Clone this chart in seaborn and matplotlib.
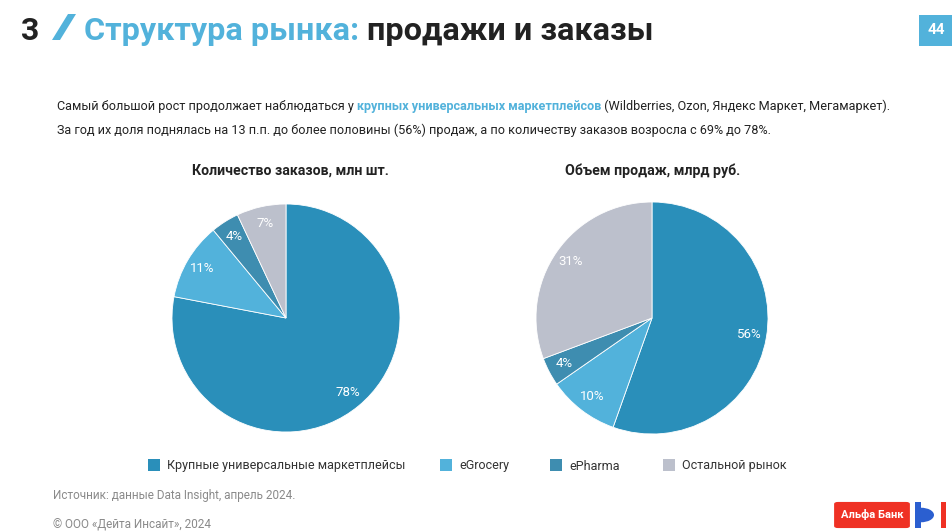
import matplotlib
matplotlib.use("Agg")
import matplotlib.pyplot as plt
import seaborn as sns
from matplotlib.patches import Rectangle, Polygon, FancyBboxPatch, Wedge

# Data
categories = ["Крупные универсальные маркетплейсы", "eGrocery", "ePharma", "Остальной рынок"]
orders_share = [78, 11, 4, 7]
sales_share = [56, 10, 4, 31]
chart_titles = ["Количество заказов, млн шт.", "Объем продаж, млрд руб."]
colors = ["#2A8FBA", "#52B2DB", "#3E8DB0", "#BCC0CC"]

sns.set_theme(style="white")
plt.rcParams['font.family'] = ['Roboto', 'DejaVu Sans']

W, H = 952, 532
fig = plt.figure(figsize=(W / 100, H / 100), dpi=100)
fig.patch.set_facecolor("white")
renderer = fig.canvas.get_renderer()

BLUE = "#52B2DB"
DARK = "#222222"


def fx(px):
    return px / W


def fy(py):
    return 1 - py / H


def put_runs(x, y, runs, size, va="baseline"):
    """Place text pieces of different styles one after another on a line"""
    cur = x
    for txt, color, weight in runs:
        t = fig.text(fx(cur), fy(y), txt, color=color, fontsize=size,
                     fontweight=weight, va=va, ha="left")
        bb = t.get_window_extent(renderer=renderer)
        cur += bb.width


def pct_labels(values):
    # show the published shares as they are (they don't sum to exactly 100)
    it = iter(values)
    return lambda p: f"{next(it)}%"


# Header
fig.text(fx(21), fy(40), "3", fontsize=23, fontweight="bold", color=DARK, va="baseline")
fig.patches.append(Polygon([[fx(68), fy(14)], [fx(76), fy(14)], [fx(60), fy(40)], [fx(52), fy(40)]],
                           closed=True, transform=fig.transFigure, color=BLUE, lw=0))
put_runs(84, 40, [("Структура рынка: ", BLUE, "bold"), ("продажи и заказы", DARK, "bold")], 23.3)

# page number box
fig.patches.append(Rectangle((fx(919), fy(46)), fx(33), 31 / H, transform=fig.transFigure,
                             color=BLUE, lw=0))
fig.text(fx(936), fy(30), "44", fontsize=11, fontweight="bold", color="white",
         ha="center", va="center")

# Paragraph
put_runs(57, 110, [("Самый большой рост продолжает наблюдаться у ", DARK, "normal"),
                   ("крупных универсальных маркетплейсов", BLUE, "bold"),
                   (" (Wildberries, Ozon, Яндекс Маркет, Мегамаркет).", DARK, "normal")], 9.1)
put_runs(57, 134, [("За год их доля поднялась на 13 п.п. до более половины (56%) продаж, "
                    "а по количеству заказов возросла с 69% до 78%.", DARK, "normal")], 9.1)

# Pies
pies = [(286, 318, 114, orders_share), (652, 318, 116, sales_share)]
title_x = [290, 653]
for (cx, cy, r, values), title, tx in zip(pies, chart_titles, title_x):
    ax = fig.add_axes([fx(cx - r), fy(cy + r), 2 * r / W, 2 * r / H])
    ax.pie(values, colors=colors, startangle=90, counterclock=False,
           autopct=pct_labels(values), pctdistance=0.85,
           wedgeprops=dict(linewidth=0.6, edgecolor="white"),
           textprops=dict(color="white", fontsize=9.5))
    ax.set_xlim(-1, 1)
    ax.set_ylim(-1, 1)
    ax.axis("off")
    fig.text(fx(tx), fy(171), title, fontsize=10.2, fontweight="bold", color=DARK,
             ha="center", va="center")

# Legend (drawn by hand so every label sits on the same baseline)
legend_x = [148, 440, 550, 663]
for lx, c, lab in zip(legend_x, colors, categories):
    fig.patches.append(Rectangle((fx(lx), fy(471)), fx(12), 12 / H,
                                 transform=fig.transFigure, color=c, lw=0))
    fig.text(fx(lx + 19), fy(469.5), lab, fontsize=9, color="#333333",
             ha="left", va="baseline")

# Footer
fig.text(fx(53), fy(496), "Источник: данные Data Insight, апрель 2024.", fontsize=8.5,
         color="#8a8a8a", va="center")
fig.text(fx(53), fy(525), "© ООО «Дейта Инсайт», 2024", fontsize=8.5,
         color="#8a8a8a", va="center")

# Logos
fig.patches.append(FancyBboxPatch((fx(836), fy(527)), fx(72), 24 / H,
                                  boxstyle="round,pad=0.002,rounding_size=0.004",
                                  transform=fig.transFigure, color="#EF3124", lw=0))
fig.text(fx(872), fy(515), "Альфа Банк", fontsize=8, fontweight="bold", color="white",
         ha="center", va="center")
fig.patches.append(Rectangle((fx(915), fy(528)), fx(6), 26 / H, transform=fig.transFigure,
                             color="#2B5FD0", lw=0))
fig.patches.append(Wedge((fx(921), fy(515)), fx(13), -90, 90, transform=fig.transFigure,
                         color="#2B5FD0", lw=0))
fig.patches.append(Rectangle((fx(941), fy(528)), fx(5), 26 / H, transform=fig.transFigure,
                             color="#EF3124", lw=0))

fig.savefig("out.png", dpi=100, facecolor="white")
